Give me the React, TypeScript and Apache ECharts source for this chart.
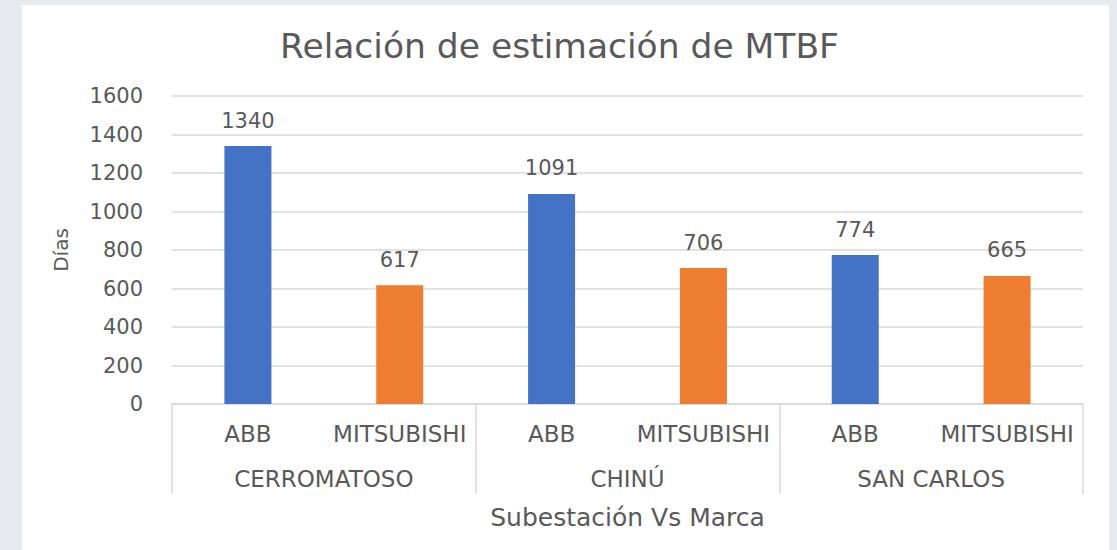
import React, { useEffect, useRef } from "react";
import * as echarts from "echarts";

const brands = ["ABB", "MITSUBISHI"];
const substations = ["CERROMATOSO", "CHINÚ", "SAN CARLOS"];
const abbValues = [1340, 1091, 774];
const mitsubishiValues = [617, 706, 665];
const yTicks = { min: 0, max: 1600, interval: 200 };

const FONT = "DejaVu Sans";
const TEXT = "#595959";
const GRID = "#d9d9d9";

export default function App() {
  const ref = useRef<HTMLDivElement>(null);
  useEffect(() => {
    if (!ref.current) return;
    const chart = echarts.init(ref.current, undefined, { renderer: "svg" });
    const categories: string[] = [];
    substations.forEach(() => brands.forEach((b) => categories.push(b)));
    const abbData: (number | string)[] = [];
    const mitData: (number | string)[] = [];
    substations.forEach((_, i) => {
      abbData.push(abbValues[i], "-");
      mitData.push("-", mitsubishiValues[i]);
    });
    const labelStyle = {
      show: true,
      position: "top" as const,
      distance: 15,
      fontSize: 21,
      fontFamily: FONT,
      color: TEXT,
    };
    chart.setOption({
      animation: false,
      backgroundColor: "#e7ebf0",
      textStyle: { fontFamily: FONT },
      graphic: [
        {
          type: "rect",
          z: -10,
          shape: { x: 22, y: 5, width: 1087, height: 560 },
          style: { fill: "#ffffff" },
        },
      ],
      title: {
        text: "Relación de estimación de MTBF",
        left: 275,
        top: 23,
        textStyle: { fontSize: 34.5, fontWeight: "normal", color: TEXT, fontFamily: FONT },
      },
      grid: { left: 172, right: 34, top: 96, bottom: 146 },
      xAxis: [
        {
          type: "category",
          data: categories,
          position: "bottom",
          axisLine: { show: true, lineStyle: { color: GRID, width: 1.5 } },
          axisTick: { show: false },
          axisLabel: { interval: 0, margin: 18, fontSize: 23, color: TEXT, fontFamily: FONT },
        },
        {
          type: "category",
          data: substations,
          position: "bottom",
          axisLine: { show: false },
          axisTick: { show: true, length: 90, lineStyle: { color: GRID, width: 1.5 } },
          axisLabel: { interval: 0, margin: 63, fontSize: 23, color: TEXT, fontFamily: FONT },
          name: "Subestación Vs Marca",
          nameLocation: "middle",
          nameGap: 101,
          nameTextStyle: { fontSize: 25, color: TEXT, fontFamily: FONT },
        },
      ],
      yAxis: {
        type: "value",
        min: yTicks.min,
        max: yTicks.max,
        interval: yTicks.interval,
        axisLine: { show: false },
        axisTick: { show: false },
        splitLine: { lineStyle: { color: GRID, width: 1.5 } },
        axisLabel: {
          margin: 29,
          fontSize: 21,
          color: TEXT,
          fontFamily: FONT,
          formatter: (v: number) => String(v),
        },
        name: "Días",
        nameLocation: "middle",
        nameRotate: 90,
        nameGap: 101,
        nameTextStyle: { fontSize: 20, color: TEXT, fontFamily: FONT },
      },
      series: [
        {
          name: "ABB",
          type: "bar",
          xAxisIndex: 0,
          data: abbData,
          barWidth: 47,
          barGap: "-100%",
          itemStyle: { color: "#4472C4" },
          label: labelStyle,
        },
        {
          name: "MITSUBISHI",
          type: "bar",
          xAxisIndex: 0,
          data: mitData,
          barWidth: 47,
          barGap: "-100%",
          itemStyle: { color: "#ED7D31" },
          label: labelStyle,
        },
      ],
    });
    return () => chart.dispose();
  }, []);
  return (
    <div
      ref={ref}
      style={{ position: "fixed", left: 0, top: 0, width: 1117, height: 550 }}
    />
  );
}
